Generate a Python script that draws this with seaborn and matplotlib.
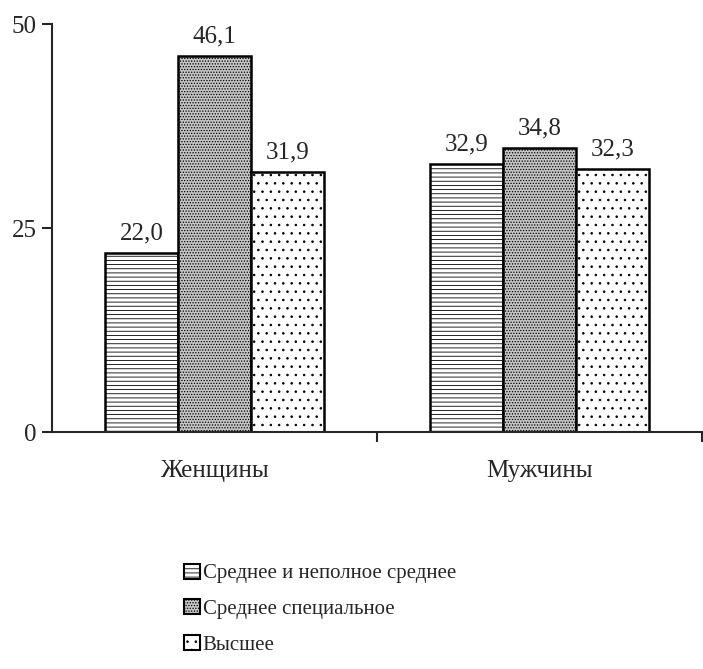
import matplotlib
matplotlib.use("Agg")
import matplotlib.pyplot as plt
import matplotlib.patches as mpatches
import seaborn as sns
import pandas as pd

# data
groups = ["Женщины", "Мужчины"]
levels = ["Среднее и неполное среднее", "Среднее специальное", "Высшее"]
women = [22.0, 46.1, 31.9]
men = [32.9, 34.8, 32.3]
yticks = [0, 25, 50]

sns.set_style("ticks")
plt.rcParams["font.family"] = ["Liberation Serif", "DejaVu Serif"]
plt.rcParams["hatch.linewidth"] = 0.6

df = pd.DataFrame({
    "group": [groups[0]] * 3 + [groups[1]] * 3,
    "level": levels * 2,
    "value": women + men,
})

# per-level look: face colour + hatch
faces = ["white", "#c4c4c4", "white"]
hatches = ["----", "......", ".."]

fig = plt.figure(figsize=(7.03, 6.69), dpi=100)
ax = fig.add_axes([0.074, 0.354, 0.925, 0.61])

sns.barplot(data=df, x="group", y="value", hue="level", hue_order=levels,
            order=groups, width=0.675, gap=0, legend=False, ax=ax,
            palette=["white"] * 3, saturation=1, errorbar=None)

for cont, fc, h in zip(ax.containers, faces, hatches):
    for bar in cont:
        bar.set_facecolor(fc)
        bar.set_hatch(h)
        bar.set_edgecolor("black")
        bar.set_linewidth(1.8)
    ax.bar_label(cont, fmt=lambda v: f"{v:.1f}".replace(".", ","),
                 padding=6, fontsize=18)

ax.set_xlim(-0.5, 1.5)
ax.set_ylim(0, 50)
ax.set_yticks(yticks)
ax.set_xticks([0.5, 1.5], labels=[], minor=False)
ax.set_xticks([0, 1], labels=groups, minor=True)
ax.tick_params(axis="x", which="minor", length=0, pad=20, labelsize=18)
ax.tick_params(axis="x", which="major", length=7, width=1.5)
ax.tick_params(axis="y", length=7, width=1.5, labelsize=18, pad=4)
ax.set_xlabel("")
ax.set_ylabel("")
for s in ["left", "bottom"]:
    ax.spines[s].set_linewidth(1.5)
sns.despine(ax=ax)

handles = [mpatches.Patch(facecolor=fc, hatch=h, edgecolor="black", linewidth=1.5)
           for fc, h in zip(faces, hatches)]
fig.legend(handles, levels, loc="upper left", bbox_to_anchor=(0.25, 0.17),
           frameon=False, fontsize=15, handlelength=0.75, handleheight=0.75,
           handletextpad=0.15, labelspacing=0.75, borderaxespad=0)

fig.savefig("out.png", dpi=100)
